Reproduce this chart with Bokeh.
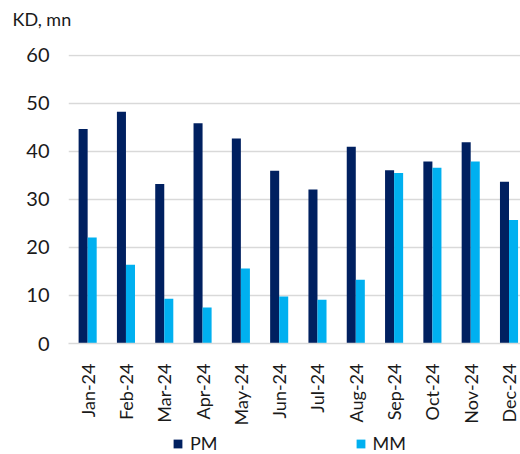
from bokeh.plotting import figure
from bokeh.layouts import column
from bokeh.models import ColumnDataSource, FixedTicker, Legend, LegendItem, Range1d
from bokeh.transform import dodge
from bokeh.embed import file_html
from bokeh.resources import INLINE
import math

# Monthly values, KD mn
months = ["Jan-24", "Feb-24", "Mar-24", "Apr-24", "May-24", "Jun-24",
          "Jul-24", "Aug-24", "Sep-24", "Oct-24", "Nov-24", "Dec-24"]
pm = [44.7, 48.3, 33.2, 45.9, 42.7, 36.0, 32.1, 41.0, 36.1, 37.9, 41.9, 33.7]
mm = [22.1, 16.4, 9.3, 7.5, 15.6, 9.8, 9.1, 13.3, 35.5, 36.6, 37.9, 25.7]
y_ticks = [0, 10, 20, 30, 40, 50, 60]
series = ["PM", "MM"]

PM_COLOR = "#002060"
MM_COLOR = "#00B0F0"
FONT = "Lato"
TEXT = "#1a1a1a"
W = 520
LEFT = 68  # width of the tick-label gutter; strip frames line up with it


def blank_strip(height, **kw):
    """A figure with no axes, grid or border, used to hold text or a legend."""
    f = figure(width=W, height=height, output_backend="svg",
               toolbar_location=None, x_range=Range1d(0, 1),
               y_range=Range1d(0, 1), min_border=0, **kw)
    f.axis.visible = False
    f.grid.visible = False
    f.outline_line_color = None
    return f


src = ColumnDataSource(dict(idx=list(range(len(months))), pm=pm, mm=mm))

# --- unit caption strip ---
head = blank_strip(40, title="KD, mn")
head.title.text_font = FONT
head.title.text_font_size = "18px"
head.title.text_font_style = "normal"
head.title.text_color = TEXT
head.title.align = "left"
head.title.offset = 12 - LEFT

# --- main bar chart ---
p = figure(width=W, height=392, output_backend="svg", toolbar_location=None,
           x_range=(-0.5, 11.3), y_range=(0, 60.2),
           min_border_left=LEFT, min_border_right=0, min_border_top=14,
           min_border_bottom=89)
p.outline_line_color = None

p.vbar(x=dodge("idx", -0.118, range=p.x_range), top="pm", width=0.236,
       source=src, fill_color=PM_COLOR, line_color=None)
p.vbar(x=dodge("idx", 0.118, range=p.x_range), top="mm", width=0.236,
       source=src, fill_color=MM_COLOR, line_color=None)

# x axis: month labels, rotated
p.xaxis.ticker = FixedTicker(ticks=list(range(len(months))))
p.xaxis.major_label_overrides = {i: m for i, m in enumerate(months)}
p.xaxis.major_label_orientation = math.pi / 2
p.xaxis.major_tick_line_color = None
p.xaxis.minor_tick_line_color = None
p.xaxis.axis_line_color = "#d9d9d9"
p.xaxis.axis_line_width = 1.5
p.xaxis.major_label_standoff = 14
p.xaxis.major_label_text_font = FONT
p.xaxis.major_label_text_font_size = "18px"
p.xaxis.major_label_text_color = TEXT
p.xgrid.grid_line_color = None

# y axis
p.yaxis.ticker = FixedTicker(ticks=y_ticks)
p.yaxis.axis_line_color = None
p.yaxis.major_tick_line_color = None
p.yaxis.minor_tick_line_color = None
p.yaxis.major_label_standoff = 13
p.yaxis.major_label_text_font = FONT
p.yaxis.major_label_text_font_size = "20px"
p.yaxis.major_label_text_color = TEXT
p.ygrid.grid_line_color = "#d9d9d9"
p.ygrid.grid_line_width = 1.5

# --- legend strip: hidden copies of the two series supply the swatches ---
foot = blank_strip(22)
swatches = [foot.vbar(x="idx", top=col, width=0.1, source=src, fill_color=c,
                      line_color=None, visible=False)
            for col, c in (("pm", PM_COLOR), ("mm", MM_COLOR))]
legend = Legend(items=[LegendItem(label=s, renderers=[r])
                       for s, r in zip(series, swatches)],
                orientation="horizontal", location=(172 - LEFT, 0),
                padding=0, margin=0, spacing=137, label_standoff=7,
                glyph_width=11, glyph_height=11, inactive_fill_alpha=0,
                label_text_font=FONT, label_text_font_size="18px",
                label_text_color=TEXT, border_line_color=None,
                background_fill_alpha=0)
foot.add_layout(legend)

page = column(head, p, foot, spacing=0)
open("out.html", "w").write(file_html(page, INLINE))
